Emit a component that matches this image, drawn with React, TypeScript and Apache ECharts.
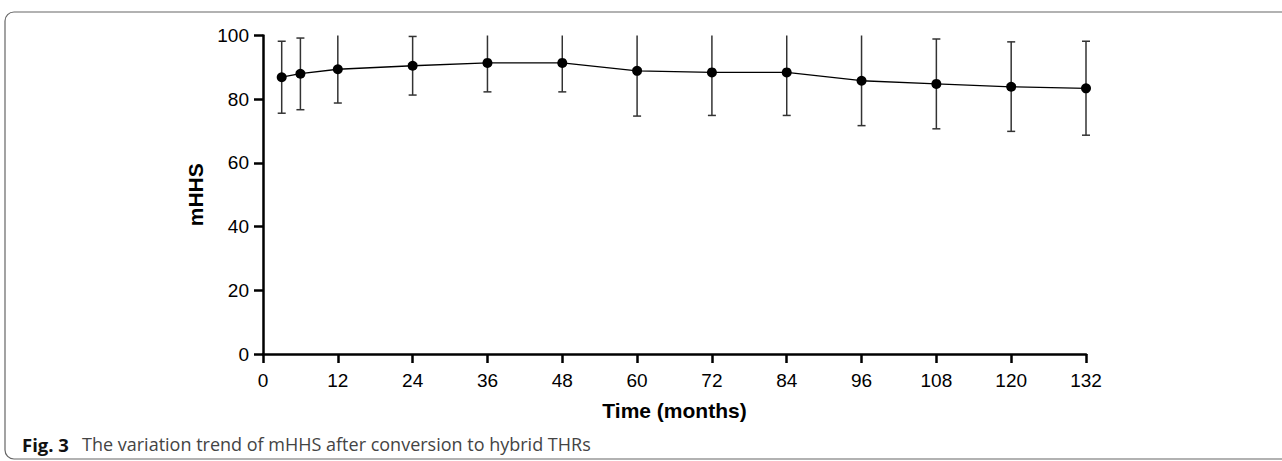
import React, { useEffect, useRef } from "react";
import * as echarts from "echarts";

const months = [3, 6, 12, 24, 36, 48, 60, 72, 84, 96, 108, 120, 132];
const meanScore = [86.9, 88.0, 89.4, 90.5, 91.4, 91.4, 88.9, 88.4, 88.4, 85.8, 84.8, 83.9, 83.4];
const lowerScore = [75.6, 76.7, 78.8, 81.3, 82.3, 82.3, 74.7, 74.9, 74.9, 71.7, 70.7, 69.9, 68.7];
const upperScore = [98.2, 99.2, 100.5, 99.7, 100.5, 100.5, 103.1, 101.9, 101.9, 100.2, 98.9, 98.0, 98.2];
const xTicks = [0, 12, 24, 36, 48, 60, 72, 84, 96, 108, 120, 132];
const yTicks = [0, 20, 40, 60, 80, 100];

export default function App() {
  const ref = useRef<HTMLDivElement>(null);
  useEffect(() => {
    if (!ref.current) return;
    const chart = echarts.init(ref.current, null, { renderer: "svg" });
    const font = "'Liberation Sans', Arial, sans-serif";
    const yMax = yTicks[yTicks.length - 1];
    const errData = months.map((m, i) => [m, lowerScore[i], upperScore[i]]);
    chart.setOption({
      animation: false,
      backgroundColor: "#ffffff",
      grid: { left: 263, right: 196, top: 35.5, bottom: 107, containLabel: false },
      xAxis: {
        type: "value",
        min: xTicks[0],
        max: xTicks[xTicks.length - 1],
        interval: 12,
        name: "Time (months)",
        nameLocation: "middle",
        nameGap: 46,
        nameTextStyle: { fontFamily: font, fontSize: 21, fontWeight: "bold", color: "#000" },
        axisLine: { show: true, onZero: false, lineStyle: { color: "#000", width: 2.5 } },
        axisTick: { show: true, length: 9, lineStyle: { color: "#000", width: 2.5 } },
        axisLabel: { fontFamily: font, fontSize: 19, color: "#000", margin: 17 },
        splitLine: { show: false },
      },
      yAxis: {
        type: "value",
        min: yTicks[0],
        max: yMax,
        interval: 20,
        name: "mHHS",
        nameLocation: "middle",
        nameGap: 45,
        nameRotate: 90,
        nameTextStyle: { fontFamily: font, fontSize: 21, fontWeight: "bold", color: "#000" },
        axisLine: { show: true, lineStyle: { color: "#000", width: 2.5 } },
        axisTick: { show: true, length: 9, lineStyle: { color: "#000", width: 2.5 } },
        axisLabel: { fontFamily: font, fontSize: 19, color: "#000", margin: 14 },
        splitLine: { show: false },
      },
      series: [
        {
          type: "custom",
          clip: false,
          data: errData,
          z: 2,
          renderItem: (params: any, api: any) => {
            const x = api.value(0);
            const upVal = api.value(2);
            const clipped = upVal > yMax;
            const lo = api.coord([x, api.value(1)]);
            const hi = api.coord([x, clipped ? yMax : upVal]);
            const cap = 4;
            const style = { stroke: "#333", lineWidth: 1.5, fill: "none" };
            const children: any[] = [
              { type: "line", shape: { x1: lo[0], y1: lo[1], x2: hi[0], y2: hi[1] }, style },
              { type: "line", shape: { x1: lo[0] - cap, y1: lo[1], x2: lo[0] + cap, y2: lo[1] }, style },
            ];
            if (!clipped) {
              children.push({ type: "line", shape: { x1: hi[0] - cap, y1: hi[1], x2: hi[0] + cap, y2: hi[1] }, style });
            }
            return { type: "group", children };
          },
        },
        {
          type: "line",
          data: months.map((m, i) => [m, meanScore[i]]),
          symbol: "circle",
          symbolSize: 10,
          itemStyle: { color: "#000" },
          lineStyle: { color: "#000", width: 1.3 },
          z: 3,
        },
      ],
      graphic: [
        {
          type: "rect",
          shape: { x: 5, y: 12, width: 1300, height: 447, r: 9 },
          style: { fill: "none", stroke: "#666", lineWidth: 1.2 },
          z: -1,
        },
        {
          type: "text",
          x: 22,
          y: 444,
          style: {
            text: "Fig. 3",
            verticalAlign: "middle",
            fontFamily: "'Open Sans', sans-serif",
            fontSize: 18.5,
            fontWeight: "bold",
            fill: "#111",
          },
        },
        {
          type: "text",
          x: 82,
          y: 444,
          style: {
            text: "The variation trend of mHHS after conversion to hybrid THRs",
            verticalAlign: "middle",
            fontFamily: "'Open Sans', sans-serif",
            fontSize: 18,
            fill: "#444",
          },
        },
      ],
    });
    return () => chart.dispose();
  }, []);
  return <div ref={ref} style={{ width: 1282, height: 461, position: "absolute", left: 0, top: 0 }} />;
}
